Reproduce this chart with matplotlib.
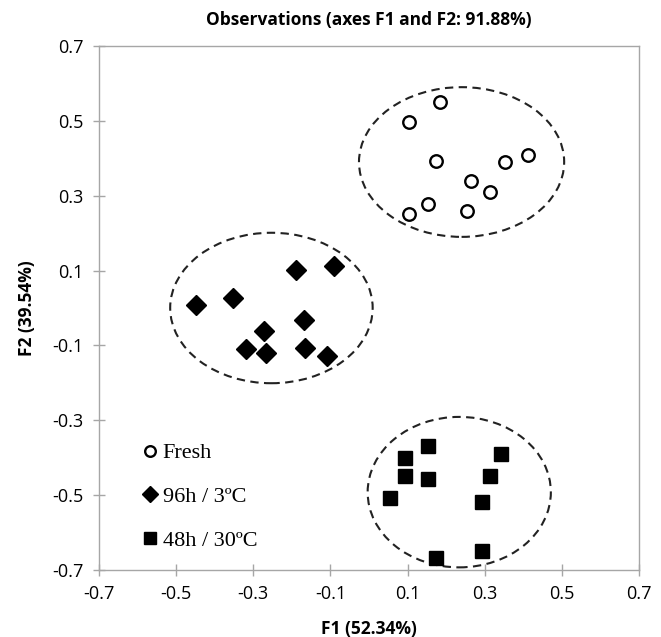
import matplotlib.pyplot as plt
from matplotlib.patches import Ellipse

# observations
fresh_x = [0.184, 0.103, 0.174, 0.352, 0.413, 0.264, 0.313, 0.153, 0.103, 0.253]
fresh_y = [0.550, 0.498, 0.392, 0.391, 0.410, 0.340, 0.311, 0.279, 0.250, 0.260]

cold_x = [-0.188, -0.090, -0.352, -0.448, -0.168, -0.273, -0.318, -0.268, -0.167, -0.109]
cold_y = [0.102, 0.113, 0.028, 0.008, -0.032, -0.061, -0.110, -0.119, -0.106, -0.128]

warm_x = [0.153, 0.094, 0.342, 0.094, 0.153, 0.313, 0.054, 0.294, 0.294, 0.175]
warm_y = [-0.369, -0.400, -0.391, -0.449, -0.458, -0.449, -0.508, -0.518, -0.649, -0.669]

# group ellipses: centre x, centre y, width, height
groups = [
    (0.240, 0.390, 0.532, 0.400),
    (-0.253, 0.000, 0.525, 0.402),
    (0.234, -0.492, 0.475, 0.402),
]

ticks = [-0.7, -0.5, -0.3, -0.1, 0.1, 0.3, 0.5, 0.7]
grey = '#a6a6a6'

fig = plt.figure(figsize=(6.61, 6.37), dpi=100)
ax = fig.add_axes([0.1498, 0.1052, 0.8169, 0.8226])

ax.plot(fresh_x, fresh_y, 'o', ms=9, mfc='white', mec='black', mew=1.7, ls='none', label='Fresh')
ax.plot(cold_x, cold_y, 'D', ms=10, color='black', ls='none', label='96h / 3ºC')
ax.plot(warm_x, warm_y, 's', ms=9.5, color='black', ls='none', label='48h / 30ºC')

for cx, cy, w, h in groups:
    ax.add_patch(Ellipse((cx, cy), w, h, fill=False, ec='#222222', lw=1.5, ls=(0, (4, 2.6))))

ax.set_xlim(-0.7, 0.7)
ax.set_ylim(-0.7, 0.7)
ax.set_xticks(ticks)
ax.set_yticks(ticks)
ax.set_xticklabels([str(t) for t in ticks])
ax.set_yticklabels([str(t) for t in ticks])

for s in ax.spines.values():
    s.set_color(grey)
    s.set_linewidth(1.0)
ax.tick_params(direction='inout', length=8, width=1.0, color=grey, labelsize=13,
               labelcolor='black', pad=7)
for lab in ax.get_xticklabels() + ax.get_yticklabels():
    lab.set_family('Open Sans')

ax.set_title('Observations (axes F1 and F2: 91.88%)', fontsize=12.5, fontweight='bold',
             family='Open Sans', pad=15)
ax.set_xlabel('F1 (52.34%)', fontsize=12.5, fontweight='bold', family='Open Sans', labelpad=12)
ax.set_ylabel('F2 (39.54%)', fontsize=12.5, fontweight='bold', family='Open Sans', labelpad=12)

leg = ax.legend(loc='lower left', bbox_to_anchor=(0.05, 0.0), frameon=False,
                prop={'family': 'Liberation Serif', 'size': 16}, markerscale=0.85,
                handlelength=0.5, handletextpad=0.3, labelspacing=1.05, borderaxespad=0.45)

fig.savefig('out.png', dpi=100)
